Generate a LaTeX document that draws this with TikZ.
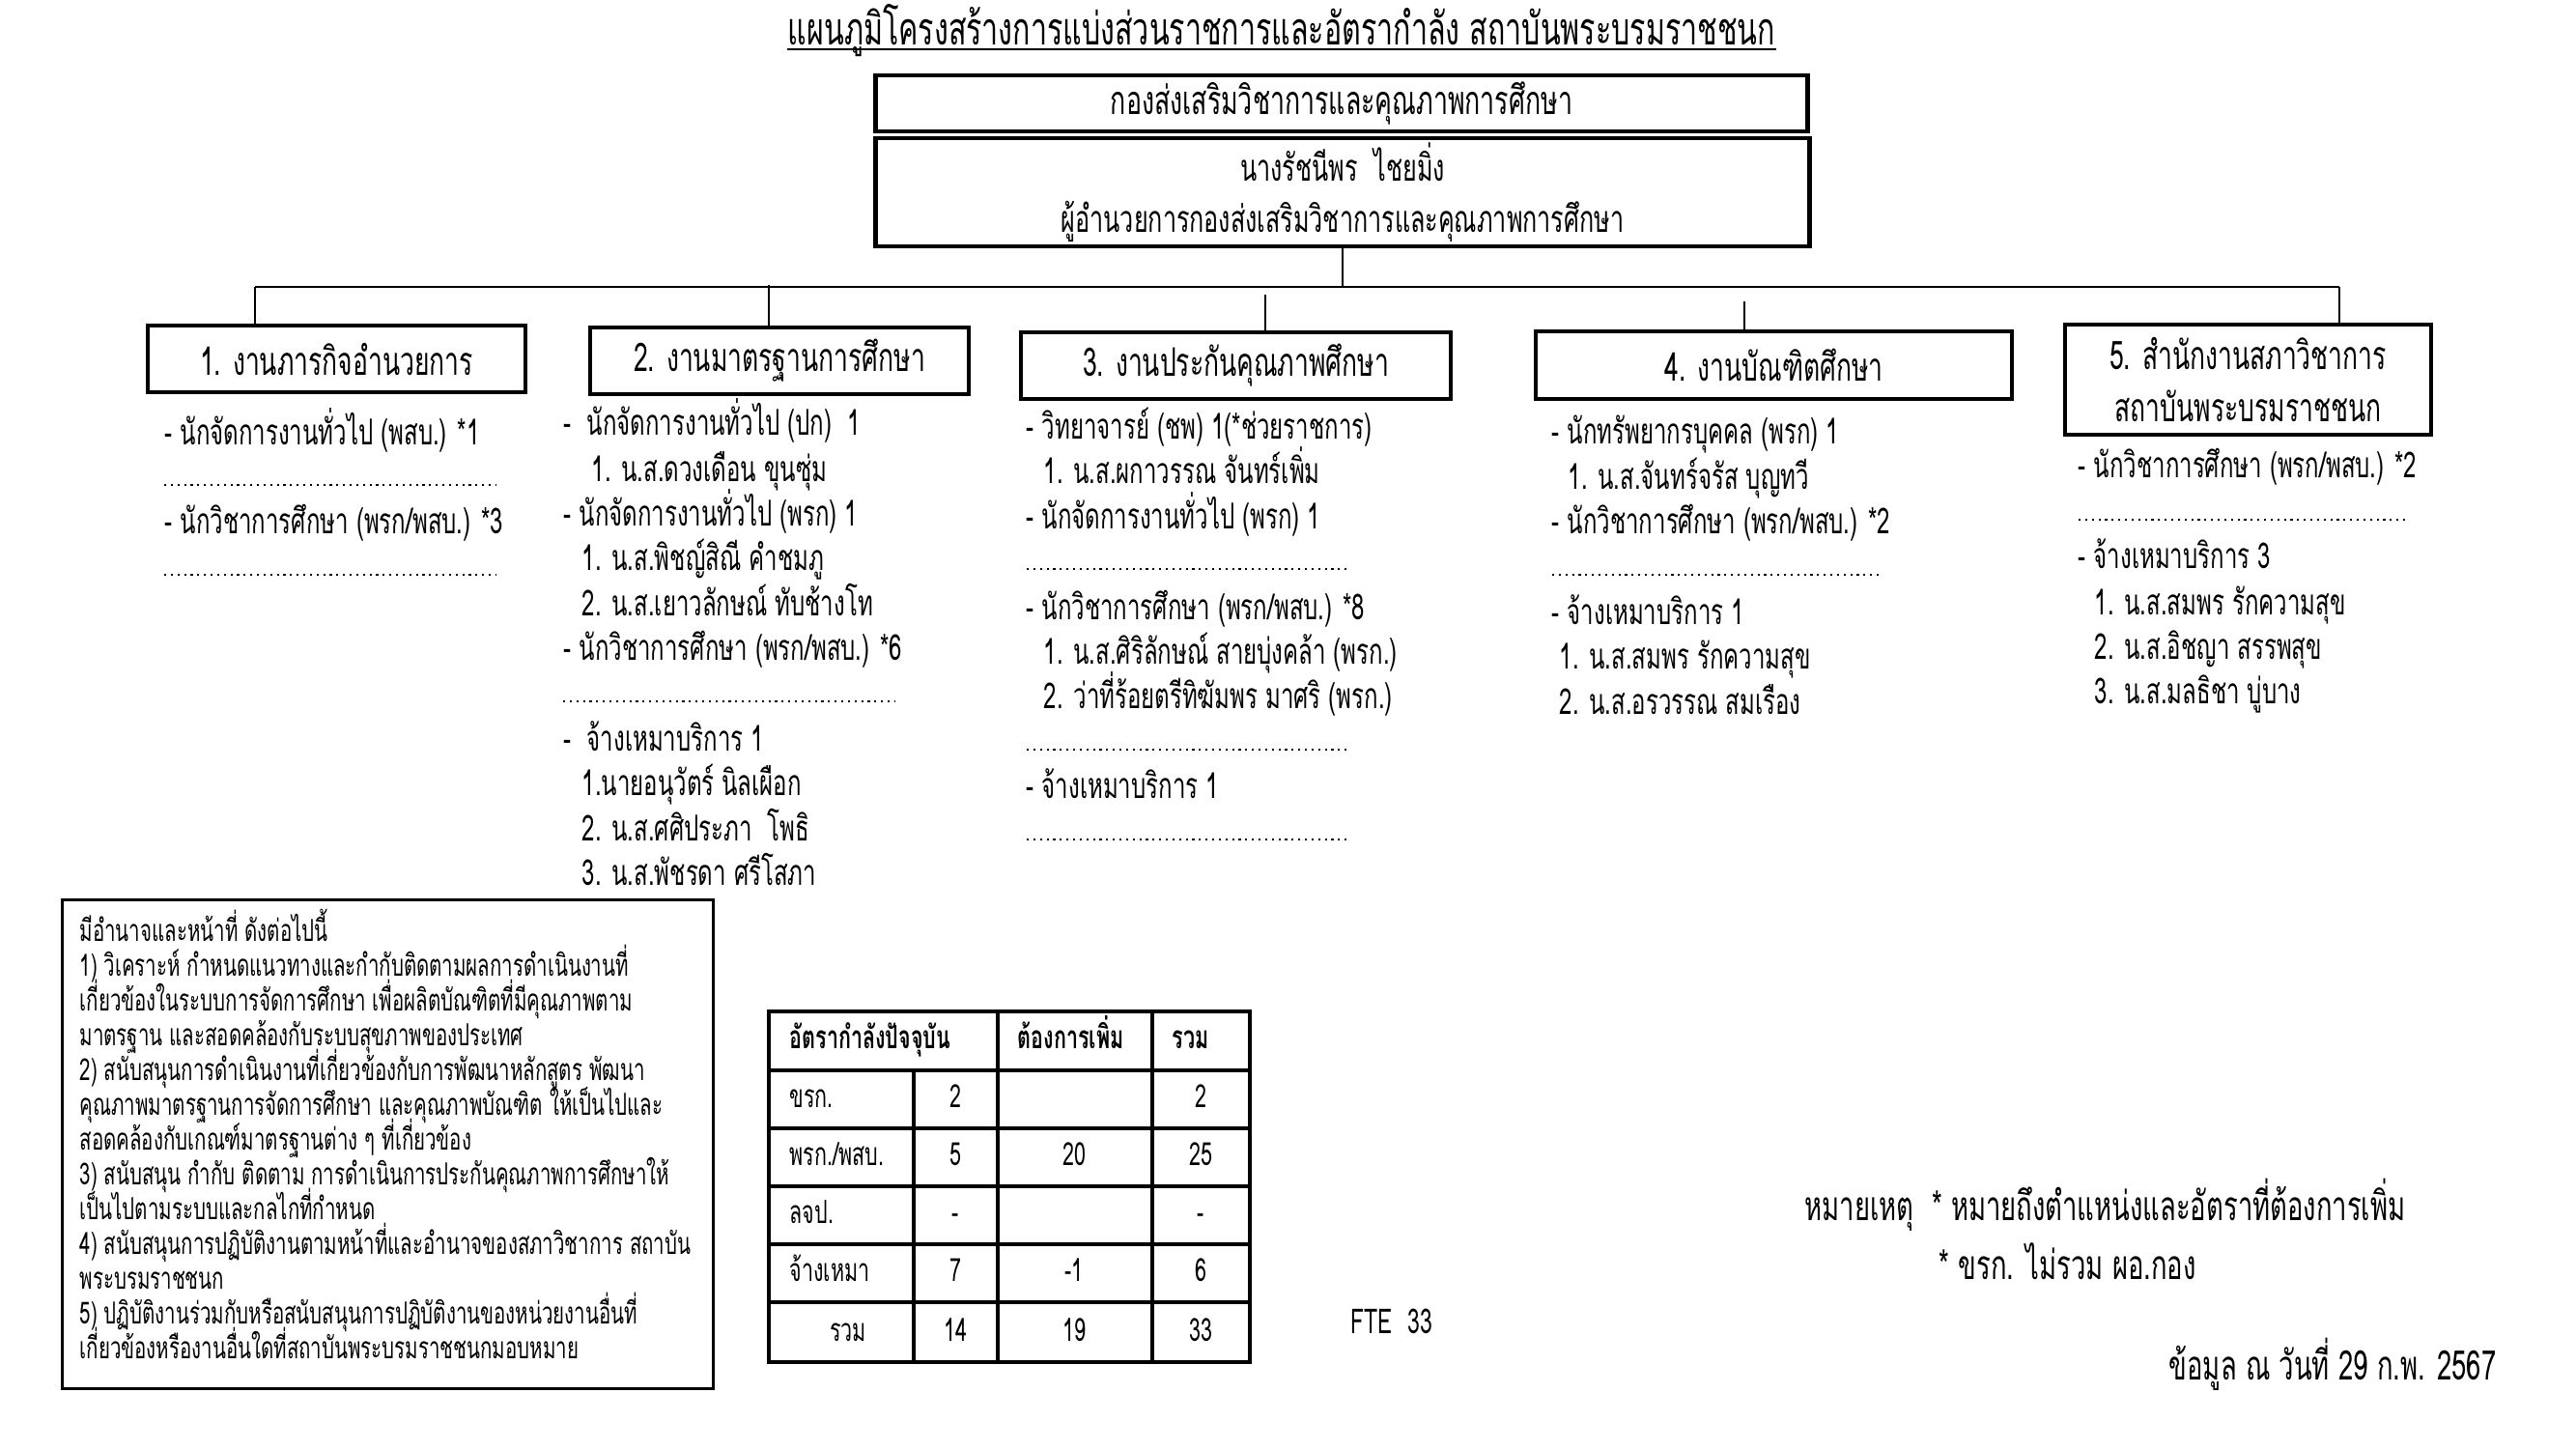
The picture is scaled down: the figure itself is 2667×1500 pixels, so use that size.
\documentclass[tikz,border=0pt]{standalone}
\usepackage{fontspec}
\setmainfont[Script=Thai,FakeStretch=0.65]{Loma}
\newcommand{\thsz}[2]{\fontsize{#1}{#2}\selectfont\lineskiplimit=-50pt\lineskip=0pt}
\tikzset{
  hbox/.style={draw, line width=1.3pt, inner sep=0pt, align=center, font=\thsz{11.6}{15}},
  conn/.style={line width=0.45pt},
  item/.style={anchor=base west, inner sep=0pt, font=\thsz{10.5}{12}},
  dotline/.style={line width=0.6pt, dash pattern=on 0.6pt off 1.35pt},
  tbl/.style={line width=1pt},
  tcell/.style={inner sep=0pt, font=\thsz{9.4}{11}},
  note/.style={anchor=base west, inner sep=0pt, font=\thsz{12}{14}},
}
\begin{document}
\begin{tikzpicture}[x=0.01cm,y=-0.01cm]
\useasboundingbox[fill=white] (0,0) rectangle (2667,1500);

% title
\node[inner sep=0pt, anchor=base, font=\thsz{13.3}{15}] (title) at (1327,47) {แผนภูมิโครงสร้างการแบ่งส่วนราชการและอัตรากำลัง สถาบันพระบรมราชชนก};
\draw[line width=0.7pt] ([yshift=-1.2pt]title.base west) -- ([yshift=-1.2pt]title.base east);

% top boxes
\node[hbox, font=\thsz{11.7}{15}, minimum width=9.64cm, minimum height=0.58cm] (div) at (1389,107) {กองส่งเสริมวิชาการและคุณภาพการศึกษา};
\node[hbox, font=\thsz{11}{15}, minimum width=9.66cm, minimum height=1.12cm] (dir) at (1390,199) {นางรัชนีพร\ \ ไชยมิ่ง\\ผู้อำนวยการกองส่งเสริมวิชาการและคุณภาพการศึกษา};

% unit boxes
\node[hbox, minimum width=3.91cm, minimum height=0.69cm] (b1) at (348.5,371.5) {1. งานภารกิจอำนวยการ};
\node[hbox, minimum width=3.92cm, minimum height=0.69cm] (b2) at (807,373.5) {2. งานมาตรฐานการศึกษา};
\node[hbox, minimum width=4.45cm, minimum height=0.69cm] (b3) at (1279.5,378.5) {3. งานประกันคุณภาพศึกษา};
\node[hbox, minimum width=4.93cm, minimum height=0.70cm] (b4) at (1836.5,378) {4. งานบัณฑิตศึกษา};
\node[hbox, minimum width=3.79cm, minimum height=1.14cm, font=\thsz{11.6}{15.5}] (b5) at (2327.5,393) {5. สำนักงานสภาวิชาการ\\สถาบันพระบรมราชชนก};

% connectors
\coordinate (busL) at (264,297);
\coordinate (busR) at (2422,297);
\coordinate (d2) at (796,295);
\coordinate (d3) at (1310,305);
\coordinate (d4) at (1806,312);
\draw[conn] (busL) -- (busR);
\draw[conn] (dir.south) -- (dir.south |- busL);
\draw[conn] (busL) -- (busL |- b1.north);
\draw[conn] (d2) -- (d2 |- b2.north);
\draw[conn] (d3) -- (d3 |- b3.north);
\draw[conn] (d4) -- (d4 |- b4.north);
\draw[conn] (busR) -- (busR |- b5.north);

% column 1
\node[item] (c1a) at (170,460) {- นักจัดการงานทั่วไป (พสบ.) *1};
\node[item] (c1b) at (170,552) {- นักวิชาการศึกษา (พรก/พสบ.) *3};
\draw[dotline] (170,502) -- (513,502);
\draw[dotline] (170,595) -- (513,595);

% column 2
\node[item] (c2a) at (583,450) {-\ \ นักจัดการงานทั่วไป (ปก)\ \ 1};
\node[item] (c2b) at (612,498) {1. น.ส.ดวงเดือน ขุนซุ่ม};
\node[item] (c2c) at (583,544) {- นักจัดการงานทั่วไป (พรก) 1};
\node[item] (c2d) at (602,590) {1. น.ส.พิชญ์สิณี คำชมภู};
\node[item] (c2e) at (602,637) {2. น.ส.เยาวลักษณ์ ทับช้างโท};
\node[item] (c2f) at (583,683) {- นักวิชาการศึกษา (พรก/พสบ.) *6};
\draw[dotline] (583,726) -- (927,726);
\node[item] (c2g) at (583,777) {-\ \ จ้างเหมาบริการ 1};
\node[item] (c2h) at (602,823) {1.นายอนุวัตร์ นิลเผือก};
\node[item] (c2i) at (602,870) {2. น.ส.ศศิประภา\ \ โพธิ};
\node[item] (c2j) at (602,916) {3. น.ส.พัชรดา ศรีโสภา};

% column 3
\node[item] (c3a) at (1062,454) {- วิทยาจารย์ (ชพ) 1(*ช่วยราชการ)};
\node[item] (c3b) at (1080,500) {1. น.ส.ผกาวรรณ จันทร์เพิ่ม};
\node[item] (c3c) at (1062,547) {- นักจัดการงานทั่วไป (พรก) 1};
\draw[dotline] (1063,589) -- (1397,589);
\node[item] (c3d) at (1062,641) {- นักวิชาการศึกษา (พรก/พสบ.) *8};
\node[item] (c3e) at (1080,687) {1. น.ส.ศิริลักษณ์ สายบุ่งคล้า (พรก.)};
\node[item] (c3f) at (1080,733) {2. ว่าที่ร้อยตรีทิฆัมพร มาศริ (พรก.)};
\draw[dotline] (1063,776) -- (1397,776);
\node[item] (c3g) at (1062,826) {- จ้างเหมาบริการ 1};
\draw[dotline] (1063,869) -- (1397,869);

% column 4
\node[item] (c4a) at (1606,459) {- นักทรัพยากรบุคคล (พรก) 1};
\node[item] (c4b) at (1623,506) {1. น.ส.จันทร์จรัส บุญทวี};
\node[item] (c4c) at (1606,552) {- นักวิชาการศึกษา (พรก/พสบ.) *2};
\draw[dotline] (1607,595) -- (1947,595);
\node[item] (c4d) at (1606,646) {- จ้างเหมาบริการ 1};
\node[item] (c4e) at (1614,692) {1. น.ส.สมพร รักความสุข};
\node[item] (c4f) at (1614,739) {2. น.ส.อรวรรณ สมเรือง};

% column 5
\node[item] (c5a) at (2151,494) {- นักวิชาการศึกษา (พรก/พสบ.) *2};
\draw[dotline] (2152,538) -- (2490,538);
\node[item] (c5b) at (2151,588) {- จ้างเหมาบริการ 3};
\node[item] (c5c) at (2168,636) {1. น.ส.สมพร รักความสุข};
\node[item] (c5d) at (2168,682) {2. น.ส.อิชญา สรรพสุข};
\node[item] (c5e) at (2168,728) {3. น.ส.มลธิชา บู่บาง};

% responsibilities box
\node[draw, line width=0.9pt, minimum width=6.73cm, minimum height=5.05cm, inner sep=0pt] (duty) at (401.5,1184.5) {};
\node[anchor=north west, inner sep=0pt, align=left, font=\thsz{8.95}{10.25}] (dutytext) at (82,940) {%
มีอำนาจและหน้าที่ ดังต่อไปนี้\\
1) วิเคราะห์ กำหนดแนวทางและกำกับติดตามผลการดำเนินงานที่\\
เกี่ยวข้องในระบบการจัดการศึกษา เพื่อผลิตบัณฑิตที่มีคุณภาพตาม\\
มาตรฐาน และสอดคล้องกับระบบสุขภาพของประเทศ\\
2) สนับสนุนการดำเนินงานที่เกี่ยวข้องกับการพัฒนาหลักสูตร พัฒนา\\
คุณภาพมาตรฐานการจัดการศึกษา และคุณภาพบัณฑิต ให้เป็นไปและ\\
สอดคล้องกับเกณฑ์มาตรฐานต่าง ๆ ที่เกี่ยวข้อง\\
3) สนับสนุน กำกับ ติดตาม การดำเนินการประกันคุณภาพการศึกษาให้\\
เป็นไปตามระบบและกลไกที่กำหนด\\
4) สนับสนุนการปฏิบัติงานตามหน้าที่และอำนาจของสภาวิชาการ สถาบัน\\
พระบรมราชชนก\\
5) ปฏิบัติงานร่วมกับหรือสนับสนุนการปฏิบัติงานของหน่วยงานอื่นที่\\
เกี่ยวข้องหรืองานอื่นใดที่สถาบันพระบรมราชชนกมอบหมาย};

% table
\draw[tbl] (796,1047) rectangle (1294,1410);
\foreach \yy in {1108,1168,1228,1288,1348} \draw[tbl] (796,\yy) -- (1294,\yy);
\draw[tbl] (946,1108) -- (946,1410);
\draw[tbl] (1033,1047) -- (1033,1410);
\draw[tbl] (1193,1047) -- (1193,1410);
\node[tcell, anchor=base west] (th1) at (817,1085) {\bfseries อัตรากำลังปัจจุบัน};
\node[tcell, anchor=base west] (th2) at (1053,1085) {\bfseries ต้องการเพิ่ม};
\node[tcell, anchor=base west] (th3) at (1213,1085) {\bfseries รวม};
\node[tcell, anchor=base west] (r1) at (817,1146) {ขรก.};
\node[tcell, anchor=base west] (r2) at (817,1206) {พรก./พสบ.};
\node[tcell, anchor=base west] (r3) at (817,1266) {ลจป.};
\node[tcell, anchor=base west] (r4) at (817,1326) {จ้างเหมา};
\node[tcell, anchor=base] (r5) at (878,1388) {รวม};
\node[tcell, anchor=base] (r1b) at (989,1146) {2};
\node[tcell, anchor=base] (r1d) at (1243,1146) {2};
\node[tcell, anchor=base] (r2b) at (989,1206) {5};
\node[tcell, anchor=base] (r2c) at (1112,1206) {20};
\node[tcell, anchor=base] (r2d) at (1243,1206) {25};
\node[tcell, anchor=base] (r3b) at (989,1266) {-};
\node[tcell, anchor=base] (r3d) at (1243,1266) {-};
\node[tcell, anchor=base] (r4b) at (989,1326) {7};
\node[tcell, anchor=base] (r4c) at (1112,1326) {-1};
\node[tcell, anchor=base] (r4d) at (1243,1326) {6};
\node[tcell, anchor=base] (r5b) at (989,1388) {14};
\node[tcell, anchor=base] (r5c) at (1112,1388) {19};
\node[tcell, anchor=base] (r5d) at (1243,1388) {33};

\node[note, font=\thsz{10.1}{12}] (fte) at (1398,1380) {FTE\ \ 33};

% notes
\node[note] (n1) at (1868,1263) {หมายเหตุ\ \ * หมายถึงตำแหน่งและอัตราที่ต้องการเพิ่ม};
\node[note] (n2) at (2007,1324) {* ขรก. ไม่รวม ผอ.กอง};
\node[note] (n3) at (2245,1428) {ข้อมูล ณ วันที่ 29 ก.พ. 2567};
\end{tikzpicture}
\end{document}
